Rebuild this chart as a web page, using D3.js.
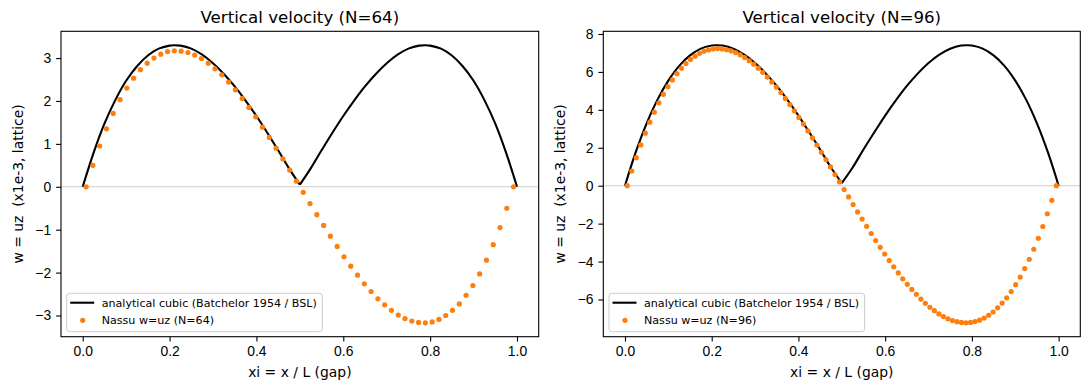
<!DOCTYPE html>
<meta charset="utf-8">

<style type="text/css">
	body {
		margin: 0;
		background: #fff;
	}
	svg {
		display: block;
		font-family: "DejaVu Sans", sans-serif;
	}
	.tick text {
		font-size: 13.9px;
		fill: #000;
	}
</style>

<body>

</body>

<script src="https://d3js.org/d3.v7.min.js"></script>

<script>

	// tick values
	var xTicks = [0, 0.2, 0.4, 0.6, 0.8, 1.0];
	var yTicks64 = [-3, -2, -1, 0, 1, 2, 3];
	var yTicks96 = [-6, -4, -2, 0, 2, 4, 6, 8];

	// analytical profile |w|, sampled along xi
	var lineXi = [0, 0.025, 0.05, 0.075, 0.1, 0.125, 0.15, 0.175, 0.2, 0.21, 0.225, 0.25, 0.275, 0.3, 0.325, 0.35, 0.375, 0.4, 0.425, 0.45, 0.475, 0.5,
		0.525, 0.55, 0.575, 0.6, 0.625, 0.65, 0.675, 0.7, 0.725, 0.75, 0.775, 0.79, 0.8, 0.825, 0.85, 0.875, 0.9, 0.925, 0.95, 0.975, 1];

	var lineW64 = [0, 0.79, 1.47, 2.02, 2.47, 2.81, 3.06, 3.22, 3.29, 3.30, 3.29, 3.22, 3.08, 2.88, 2.63, 2.34, 2.01, 1.65, 1.26, 0.85, 0.43, 0.05,
		0.43, 0.85, 1.26, 1.65, 2.01, 2.34, 2.63, 2.88, 3.08, 3.22, 3.29, 3.30, 3.29, 3.22, 3.06, 2.81, 2.47, 2.02, 1.47, 0.79, 0];

	var lineW96 = [0, 1.78, 3.29, 4.54, 5.54, 6.32, 6.87, 7.23, 7.39, 7.41, 7.39, 7.22, 6.91, 6.47, 5.91, 5.26, 4.51, 3.70, 2.82, 1.91, 0.96, 0.14,
		0.96, 1.91, 2.82, 3.70, 4.51, 5.26, 5.91, 6.47, 6.91, 7.22, 7.39, 7.41, 7.39, 7.23, 6.87, 6.32, 5.54, 4.54, 3.29, 1.78, 0];

	// simulated w at each lattice node (N=64)
	var nassuW64 = [0, 0.50, 0.95, 1.35, 1.71, 2.03, 2.30, 2.53, 2.73, 2.88, 3.00, 3.09, 3.15, 3.17, 3.16, 3.13,
		3.07, 2.99, 2.88, 2.75, 2.61, 2.44, 2.26, 2.06, 1.85, 1.63, 1.39, 1.15, 0.90, 0.65, 0.39, 0.13,
		-0.13, -0.39, -0.65, -0.90, -1.15, -1.39, -1.63, -1.85, -2.06, -2.26, -2.44, -2.61, -2.75, -2.88, -2.99, -3.07,
		-3.13, -3.16, -3.17, -3.15, -3.09, -3.00, -2.88, -2.73, -2.53, -2.30, -2.03, -1.71, -1.35, -0.95, -0.50, 0];

	// simulated w at each lattice node (N=96)
	var nassuW96 = [0, 0.77, 1.48, 2.15, 2.77, 3.35, 3.88, 4.37, 4.82, 5.22, 5.58, 5.91, 6.19, 6.44, 6.66, 6.83,
		6.98, 7.09, 7.16, 7.21, 7.23, 7.21, 7.17, 7.11, 7.02, 6.90, 6.76, 6.59, 6.41, 6.20, 5.98, 5.73,
		5.47, 5.20, 4.91, 4.60, 4.28, 3.95, 3.60, 3.25, 2.89, 2.52, 2.14, 1.76, 1.38, 0.99, 0.59, 0.20,
		-0.20, -0.59, -0.99, -1.38, -1.76, -2.14, -2.52, -2.89, -3.25, -3.60, -3.95, -4.28, -4.60, -4.91, -5.20, -5.47,
		-5.73, -5.98, -6.20, -6.41, -6.59, -6.76, -6.90, -7.02, -7.11, -7.17, -7.21, -7.23, -7.21, -7.16, -7.09, -6.98,
		-6.83, -6.66, -6.44, -6.19, -5.91, -5.58, -5.22, -4.82, -4.37, -3.88, -3.35, -2.77, -2.15, -1.48, -0.77, 0];

	var orange = "#ff7f0e";

	var svg = d3.select("body").append("svg")
		.attr("width", 1089)
		.attr("height", 390);

	function panel(o) {

		var top = 31.3, bottom = 336.7;

		var lo = Math.min(d3.min(o.line), d3.min(o.dots));
		var hi = Math.max(d3.max(o.line), d3.max(o.dots));
		var pad = (hi - lo) * 0.05;

		var xScale = d3.scaleLinear()
			.domain([-0.05, 1.05])
			.range([o.x0, o.x1]);

		var yScale = d3.scaleLinear()
			.domain([lo - pad, hi + pad])
			.range([bottom, top]);

		var g = svg.append("g");

		// zero line
		g.append("line")
			.attr("x1", o.x0).attr("x2", o.x1)
			.attr("y1", yScale(0)).attr("y2", yScale(0))
			.attr("stroke", "#cccccc")
			.attr("stroke-width", 1.1);

		// analytical curve, two halves so the cusp stays sharp
		var pts = lineXi.map(function(d, i) { return {x: d, w: o.line[i]}; });
		var line = d3.line()
			.x(function(d) { return xScale(d.x); })
			.y(function(d) { return yScale(d.w); })
			.curve(d3.curveCatmullRom);

		[pts.filter(function(d) { return d.x <= 0.5; }),
		 pts.filter(function(d) { return d.x >= 0.5; })].forEach(function(seg) {
			g.append("path")
				.attr("d", line(seg))
				.attr("fill", "none")
				.attr("stroke", "#000")
				.attr("stroke-width", 2.1)
				.attr("stroke-linejoin", "round");
		});

		// lattice nodes at cell centres
		var n = o.dots.length;
		g.selectAll("circle.node")
			.data(o.dots)
			.enter()
			.append("circle")
			.attr("class", "node")
			.attr("r", 2.6)
			.attr("cx", function(d, i) { return xScale((i + 0.5) / n); })
			.attr("cy", function(d) { return yScale(d); })
			.attr("fill", orange);

		// axes
		var xAxis = d3.axisBottom(xScale)
			.tickValues(xTicks)
			.tickFormat(d3.format(".1f"))
			.tickSize(4.9)
			.tickPadding(4.9);

		var yAxis = d3.axisLeft(yScale)
			.tickValues(o.yTicks)
			.tickFormat(d3.format("d"))
			.tickSize(4.9)
			.tickPadding(4.9);

		g.append("g")
			.attr("transform", "translate(0," + bottom + ")")
			.call(xAxis)
			.call(function(a) { a.select(".domain").remove(); })
			.selectAll("line").attr("stroke-width", 1.1);

		g.append("g")
			.attr("transform", "translate(" + o.x0 + ",0)")
			.call(yAxis)
			.call(function(a) { a.select(".domain").remove(); })
			.selectAll("line").attr("stroke-width", 1.1);

		g.selectAll(".tick text").attr("font-family", null).attr("font-size", null);

		// frame
		g.append("rect")
			.attr("x", o.x0).attr("y", top)
			.attr("width", o.x1 - o.x0).attr("height", bottom - top)
			.attr("fill", "none")
			.attr("stroke", "#000")
			.attr("stroke-width", 1.1);

		// title and labels
		g.append("text")
			.attr("x", (o.x0 + o.x1) / 2)
			.attr("y", 23)
			.attr("text-anchor", "middle")
			.attr("font-size", "16.67px")
			.text(o.title);

		g.append("text")
			.attr("x", (o.x0 + o.x1) / 2)
			.attr("y", 377)
			.attr("text-anchor", "middle")
			.attr("font-size", "13.9px")
			.text("xi = x / L (gap)");

		g.append("text")
			.attr("transform", "translate(" + (o.x0 - 38) + "," + ((top + bottom) / 2) + ") rotate(-90)")
			.attr("text-anchor", "middle")
			.attr("font-size", "13.9px")
			.attr("xml:space", "preserve")
			.style("white-space", "pre")
			.text("w = uz  (x1e-3, lattice)");

		// legend
		var lx = o.x0 + 5.7, ly = 293.3;
		var leg = g.append("g");
		var box = leg.append("rect")
			.attr("x", lx).attr("y", ly)
			.attr("height", 38.4)
			.attr("rx", 2.8)
			.attr("fill", "#fff")
			.attr("fill-opacity", 0.8)
			.attr("stroke", "#cccccc")
			.attr("stroke-width", 1);

		leg.append("line")
			.attr("x1", lx + 3.5).attr("x2", lx + 27.5)
			.attr("y1", ly + 9.4).attr("y2", ly + 9.4)
			.attr("stroke", "#000")
			.attr("stroke-width", 2.1);

		leg.append("circle")
			.attr("cx", lx + 16).attr("cy", ly + 27)
			.attr("r", 2.6)
			.attr("fill", orange);

		var t1 = leg.append("text")
			.attr("x", lx + 35).attr("y", ly + 13.4)
			.attr("font-size", "11.1px")
			.text("analytical cubic (Batchelor 1954 / BSL)");

		leg.append("text")
			.attr("x", lx + 35).attr("y", ly + 31)
			.attr("font-size", "11.1px")
			.text(o.dotLabel);

		box.attr("width", 35 + t1.node().getComputedTextLength() + 5.5);
	}

	panel({
		x0: 61, x1: 538.7,
		title: "Vertical velocity (N=64)",
		yTicks: yTicks64,
		line: lineW64,
		dots: nassuW64,
		dotLabel: "Nassu w=uz (N=64)"
	});

	panel({
		x0: 603.3, x1: 1080.3,
		title: "Vertical velocity (N=96)",
		yTicks: yTicks96,
		line: lineW96,
		dots: nassuW96,
		dotLabel: "Nassu w=uz (N=96)"
	});

</script>
